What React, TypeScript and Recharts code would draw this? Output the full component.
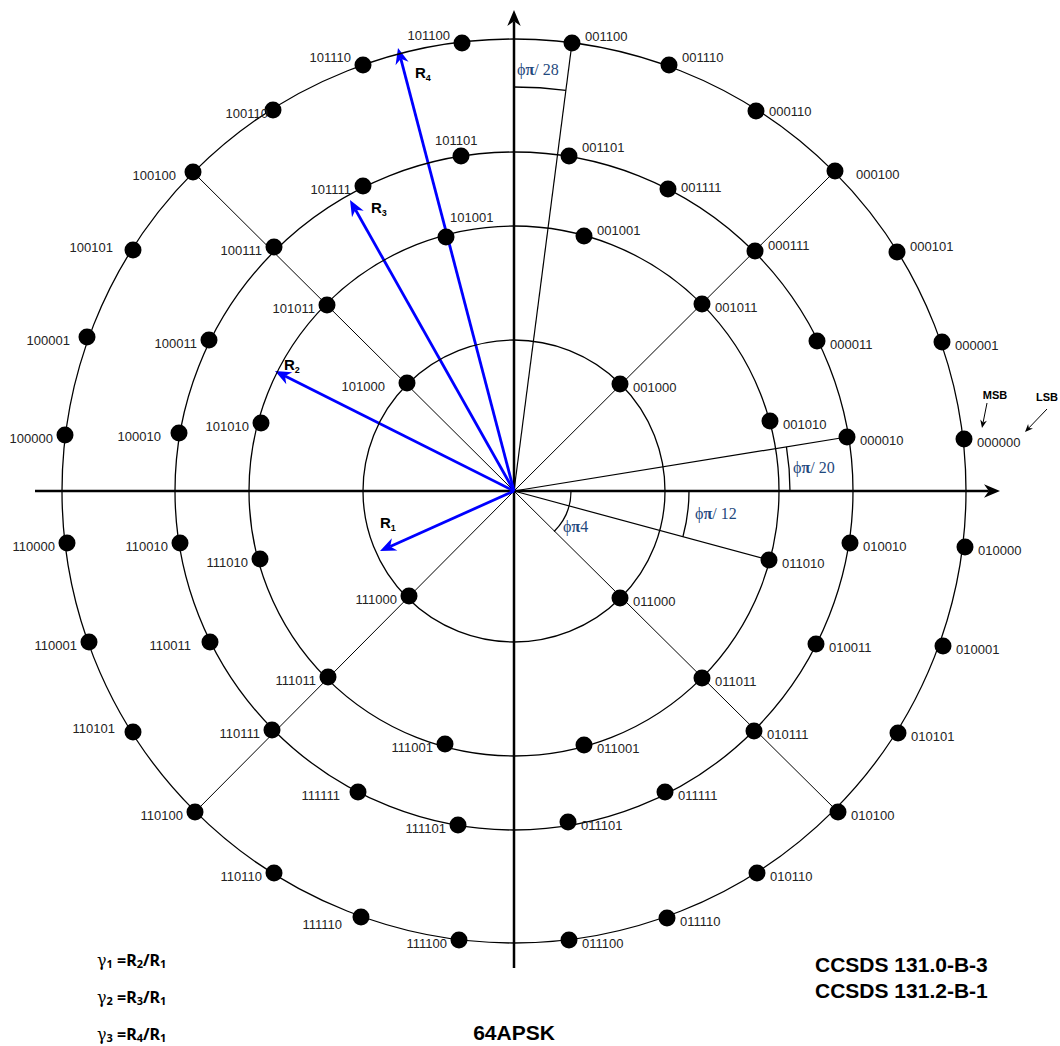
import React from "react";
import {
  ScatterChart,
  Scatter,
  XAxis,
  YAxis,
  ReferenceDot,
  ReferenceLine,
} from "recharts";

// 64APSK constellation points (origin at centre, y up)
const ring1 = [
  { bits: "001000", x: 106, y: 107 },
  { bits: "101000", x: -107, y: 108 },
  { bits: "111000", x: -105, y: -105 },
  { bits: "011000", x: 106, y: -107 },
];

const ring2 = [
  { bits: "001010", x: 256, y: 70 },
  { bits: "001011", x: 188, y: 187 },
  { bits: "001001", x: 70, y: 255 },
  { bits: "101001", x: -68, y: 254 },
  { bits: "101011", x: -187, y: 186 },
  { bits: "101010", x: -253, y: 68 },
  { bits: "111010", x: -254, y: -68 },
  { bits: "111011", x: -186, y: -186 },
  { bits: "111001", x: -69, y: -253 },
  { bits: "011001", x: 70, y: -254 },
  { bits: "011011", x: 188, y: -187 },
  { bits: "011010", x: 255, y: -69 },
];

const ring3 = [
  { bits: "000010", x: 333, y: 54 },
  { bits: "000011", x: 303, y: 150 },
  { bits: "000111", x: 241, y: 240 },
  { bits: "001111", x: 154, y: 302 },
  { bits: "001101", x: 55, y: 335 },
  { bits: "101101", x: -53, y: 335 },
  { bits: "101111", x: -151, y: 305 },
  { bits: "100111", x: -240, y: 244 },
  { bits: "100011", x: -305, y: 151 },
  { bits: "100010", x: -335, y: 58 },
  { bits: "110010", x: -334, y: -52 },
  { bits: "110011", x: -304, y: -151 },
  { bits: "110111", x: -242, y: -239 },
  { bits: "111111", x: -156, y: -301 },
  { bits: "111101", x: -56, y: -334 },
  { bits: "011101", x: 54, y: -331 },
  { bits: "011111", x: 151, y: -301 },
  { bits: "010111", x: 240, y: -240 },
  { bits: "010011", x: 302, y: -153 },
  { bits: "010010", x: 336, y: -52 },
];

const ring4 = [
  { bits: "000000", x: 450, y: 52 },
  { bits: "000001", x: 428, y: 149 },
  { bits: "000101", x: 383, y: 239 },
  { bits: "000100", x: 321, y: 320 },
  { bits: "000110", x: 242, y: 380 },
  { bits: "001110", x: 155, y: 426 },
  { bits: "001100", x: 58, y: 448 },
  { bits: "101100", x: -52, y: 448 },
  { bits: "101110", x: -151, y: 426 },
  { bits: "100110", x: -241, y: 381 },
  { bits: "100100", x: -321, y: 319 },
  { bits: "100101", x: -381, y: 241 },
  { bits: "100001", x: -427, y: 154 },
  { bits: "100000", x: -449, y: 56 },
  { bits: "110000", x: -447, y: -52 },
  { bits: "110001", x: -425, y: -151 },
  { bits: "110101", x: -381, y: -241 },
  { bits: "110100", x: -319, y: -321 },
  { bits: "110110", x: -240, y: -382 },
  { bits: "111110", x: -153, y: -426 },
  { bits: "111100", x: -55, y: -449 },
  { bits: "011100", x: 55, y: -449 },
  { bits: "011110", x: 153, y: -427 },
  { bits: "010110", x: 243, y: -382 },
  { bits: "010100", x: 324, y: -321 },
  { bits: "010101", x: 384, y: -242 },
  { bits: "010001", x: 429, y: -155 },
  { bits: "010000", x: 451, y: -56 },
];

const ringRadii = [151, 265, 339, 452];

// radius vectors R1..R4 (arrow tips)
const radiusVectors = [
  { name: "1", x: -134, y: -60 },
  { name: "2", x: -239, y: 120 },
  { name: "3", x: -164, y: 291 },
  { name: "4", x: -116, y: 443 },
];

const diagonalEnds = ["000100", "100100", "110100", "010100"];
const guideEnds = ["001100", "000010", "011010"];

// angle marks: from an axis angle to the spoke through a point, at radius r
const angleMarks = [
  { from: 90, to: "001100", r: 404 },
  { from: 0, to: "000010", r: 276 },
  { from: 0, to: "011010", r: 175 },
  { from: 0, to: "011000", r: 57 },
];

// label tweaks where the drawing moves a label off its usual place
const labelNudge: Record<string, { dx?: number; dy?: number; anchor?: string }> = {
  "001100": { dy: -10 },
  "101100": { dy: -11 },
  "001110": { dy: -11 },
  "101110": { dy: -11 },
  "000110": { dy: -3 },
  "000101": { dy: -9 },
  "100101": { dx: -8, dy: -6 },
  "001101": { dy: -12 },
  "101101": { dx: -14, dy: -19, anchor: "start" },
  "101001": { dx: 16, dy: -23, anchor: "start" },
  "001001": { dy: -9 },
  "000111": { dy: -9 },
  "001111": { dy: -5 },
  "100100": { dx: -5 },
  "000100": { dx: 8 },
  "100110": { dx: 7 },
  "110011": { dx: -7 },
  "110101": { dx: -6, dy: -7 },
  "111111": { dx: -6 },
  "111110": { dx: -7, dy: 4 },
  "100001": { dx: -5 },
  "100010": { dx: -6 },
  "101000": { dx: -10 },
};

const W = 1060;
const H = 1046;
const CX = 514;
const CY = 491;

const allPoints = [...ring1, ...ring2, ...ring3, ...ring4];
const find = (bits: string) => allPoints.find((p) => p.bits === bits)!;

const labelFont = "'Liberation Sans', Arial, sans-serif";
const blue = "#0000FF";
const angleBlue = "#1F497D";

const PointShape = (props: any) => {
  const { cx, cy, payload } = props;
  const n = labelNudge[payload.bits] || {};
  const right = payload.x > 0;
  const anchor = n.anchor ?? (right ? "start" : "end");
  const tx = cx + (right ? 13 : -12) + (n.dx ?? 0);
  const ty = cy + 3 + (n.dy ?? 0);
  return (
    <g>
      <circle cx={cx} cy={cy} r={8.5} fill="#000" />
      <text
        x={tx}
        y={ty}
        dominantBaseline="central"
        textAnchor={anchor as any}
        fontFamily={labelFont}
        fontSize={13}
        fill="#222"
      >
        {payload.bits}
      </text>
    </g>
  );
};

const ArrowShape = (props: any) => {
  const { x1, y1, x2, y2, color, width, head } = props;
  const dx = x2 - x1;
  const dy = y2 - y1;
  const len = Math.hypot(dx, dy);
  const ux = dx / len;
  const uy = dy / len;
  const bx = x2 - ux * head;
  const by = y2 - uy * head;
  const px = -uy * head * 0.42;
  const py = ux * head * 0.42;
  const nx = x2 - ux * head * 0.7;
  const ny = y2 - uy * head * 0.7;
  return (
    <g>
      <line x1={x1} y1={y1} x2={nx} y2={ny} stroke={color} strokeWidth={width} />
      <polygon
        points={`${x2},${y2} ${bx + px},${by + py} ${nx},${ny} ${bx - px},${by - py}`}
        fill={color}
      />
    </g>
  );
};

const arcShape = (fromDeg: number, toDeg: number, r: number) => (props: any) => {
  const { cx, cy } = props;
  const a0 = (fromDeg * Math.PI) / 180;
  const a1 = (toDeg * Math.PI) / 180;
  const x0 = cx + r * Math.cos(a0);
  const y0 = cy - r * Math.sin(a0);
  const x1 = cx + r * Math.cos(a1);
  const y1 = cy - r * Math.sin(a1);
  const sweep = toDeg < fromDeg ? 1 : 0;
  return (
    <path
      d={`M${x0},${y0} A${r},${r} 0 0 ${sweep} ${x1},${y1}`}
      fill="none"
      stroke="#000"
      strokeWidth={1.3}
    />
  );
};

const RLabel = ({ x, y, n }: { x: number; y: number; n: string }) => (
  <text x={x} y={y} fontFamily={labelFont} fontWeight="bold" fontSize={15} fill="#000">
    R
    <tspan fontSize={9} dy={3}>
      {n}
    </tspan>
  </text>
);

const AngleLabel = ({ x, y, t }: { x: number; y: number; t: string }) => (
  <text x={x} y={y} fontFamily="'Liberation Serif', 'Times New Roman', serif" fontSize={16} fill={angleBlue}>
    <tspan>ϕ</tspan>
    <tspan fontWeight="bold">π</tspan>
    <tspan>{t}</tspan>
  </text>
);

const Gamma = ({ y, g, r }: { y: number; g: string; r: string }) => (
  <text x={97} y={y} fontFamily="'Noto Sans', 'Liberation Sans', sans-serif" fontWeight="bold" fontSize={16} fill="#000">
    <tspan fontFamily="'DejaVu Serif', serif" fontWeight="normal">γ</tspan>
    <tspan fontSize={11} dy={2}>{g}</tspan>
    <tspan dy={-2}> =R</tspan>
    <tspan fontSize={11} dy={2}>{r}</tspan>
    <tspan dy={-2}>/R</tspan>
    <tspan fontSize={11} dy={2}>1</tspan>
  </text>
);

export default function App() {
  return (
    <div style={{ position: "absolute", left: 0, top: 0, width: W, height: H, background: "#fff" }}>
      <ScatterChart width={W} height={H} margin={{ top: 0, right: 0, bottom: 0, left: 0 }}>
        <XAxis type="number" dataKey="x" domain={[-CX, W - CX]} hide allowDataOverflow />
        <YAxis type="number" dataKey="y" domain={[CY - H, CY]} hide allowDataOverflow />

        {ringRadii.map((r) => (
          <ReferenceDot
            key={"ring" + r}
            x={0}
            y={0}
            r={r}
            fill="none"
            stroke="#000"
            strokeWidth={1.3}
          />
        ))}

        {diagonalEnds.map((b) => (
          <ReferenceLine
            key={"d" + b}
            segment={[{ x: 0, y: 0 }, { x: find(b).x, y: find(b).y }]}
            stroke="#000"
            strokeWidth={1}
          />
        ))}
        {guideEnds.map((b) => (
          <ReferenceLine
            key={"g" + b}
            segment={[{ x: 0, y: 0 }, { x: find(b).x, y: find(b).y }]}
            stroke="#000"
            strokeWidth={1.2}
          />
        ))}

        {angleMarks.map((m, i) => {
          const p = find(m.to);
          const to = (Math.atan2(p.y, p.x) * 180) / Math.PI;
          return (
            <ReferenceDot key={"a" + i} x={0} y={0} r={m.r} shape={arcShape(m.from, to, m.r)} />
          );
        })}

        <ReferenceLine
          segment={[{ x: -479, y: 0 }, { x: 486, y: 0 }]}
          shape={(p: any) => <ArrowShape {...p} color="#000" width={2.5} head={16} />}
        />
        <ReferenceLine
          segment={[{ x: 0, y: -477 }, { x: 0, y: 481 }]}
          shape={(p: any) => <ArrowShape {...p} color="#000" width={2.5} head={16} />}
        />

        <Scatter data={ring1} shape={PointShape} isAnimationActive={false} />
        <Scatter data={ring2} shape={PointShape} isAnimationActive={false} />
        <Scatter data={ring3} shape={PointShape} isAnimationActive={false} />
        <Scatter data={ring4} shape={PointShape} isAnimationActive={false} />

        {radiusVectors.map((v) => (
          <ReferenceLine
            key={"R" + v.name}
            segment={[{ x: 0, y: 0 }, { x: v.x, y: v.y }]}
            shape={(p: any) => <ArrowShape {...p} color={blue} width={2.8} head={16} />}
          />
        ))}

        <RLabel x={415} y={78} n="4" />
        <RLabel x={371} y={213} n="3" />
        <RLabel x={284} y={370} n="2" />
        <RLabel x={380} y={528} n="1" />

        <AngleLabel x={517} y={75} t="/  28" />
        <AngleLabel x={793} y={473} t="/  20" />
        <AngleLabel x={695} y={519} t="/  12" />
        <AngleLabel x={563} y={532} t="4" />

        <text x={995} y={399} textAnchor="middle" fontFamily={labelFont} fontWeight="bold" fontSize={11}>
          MSB
        </text>
        <text x={1047} y={401} textAnchor="middle" fontFamily={labelFont} fontWeight="bold" fontSize={11}>
          LSB
        </text>
        <ArrowShape x1={987} y1={403} x2={982} y2={428} color="#000" width={1} head={8} />
        <ArrowShape x1={1047} y1={409} x2={1025} y2={432} color="#000" width={1} head={8} />

        <text x={815} y={972} fontFamily={labelFont} fontWeight="bold" fontSize={21}>
          CCSDS 131.0-B-3
        </text>
        <text x={815} y={998} fontFamily={labelFont} fontWeight="bold" fontSize={21}>
          CCSDS 131.2-B-1
        </text>
        <text x={514} y={1040} textAnchor="middle" fontFamily={labelFont} fontWeight="bold" fontSize={21}>
          64APSK
        </text>

        <Gamma y={966} g="1" r="2" />
        <Gamma y={1003} g="2" r="3" />
        <Gamma y={1040} g="3" r="4" />
      </ScatterChart>
    </div>
  );
}
